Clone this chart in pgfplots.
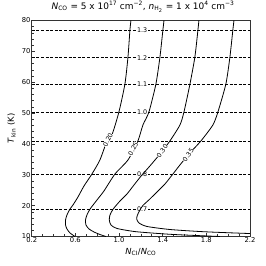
\documentclass[border=0pt]{standalone}
\usepackage{fontspec}
\setmainfont{DejaVu Sans}
\usepackage{pgfplots}
\pgfplotsset{compat=1.18}
\begin{document}
\begin{tikzpicture}
\begin{axis}[
  at={(0,0)}, anchor=south west,
  width=218.3bp, height=216bp, scale only axis,
  xmin=0.2, xmax=2.2, ymin=10, ymax=80,
  xtick={0.2,0.6,1.0,1.4,1.8,2.2},
  xticklabels={0.2,0.6,1.0,1.4,1.8,2.2},
  ytick={10,20,30,40,50,60,70,80},
  minor x tick num=3, minor y tick num=4,
  tick align=inside, tick pos=left,
  major tick length=3.5bp, minor tick length=2bp,
  axis line style={black!80, line width=0.8bp},
  every tick/.style={black!80, line width=0.6bp},
  tick label style={font=\fontsize{6.8}{7.5}\selectfont},
  /pgf/number format/assume math mode=true,
  yticklabel style={inner sep=1bp},
  xticklabel style={inner sep=1bp},
  xlabel={\textit{N}\textsubscript{CI}/\textit{N}\textsubscript{CO}},
  ylabel={\textit{T}\textsubscript{kin} (K)},
  label style={font=\fontsize{8.4}{9.5}\selectfont},
  xlabel style={at={(axis description cs:0.5,-0.0718)}, anchor=center},
  ylabel style={at={(axis description cs:-0.092,0.5)}, anchor=center},
  title={\textit{N}\textsubscript{CO} = 5 x 10\textsuperscript{17} cm\textsuperscript{−2}, \textit{n}\textsubscript{H\textsubscript{2}} = 1 x 10\textsuperscript{4} cm\textsuperscript{−3}},
  title style={at={(axis description cs:0.51,1.036)}, anchor=center, font=\fontsize{9}{10}\selectfont},
]
% dashed contours (horizontal)
\addplot[black, line width=0.7bp, dash pattern=on 3bp off 1.6bp] coordinates {(0.2,76.92) (2.2,76.92)};
\addplot[black, line width=0.7bp, dash pattern=on 3bp off 1.6bp] coordinates {(0.2,67.9) (2.2,67.9)};
\addplot[black, line width=0.7bp, dash pattern=on 3bp off 1.6bp] coordinates {(0.2,59.3) (2.2,59.3)};
\addplot[black, line width=0.7bp, dash pattern=on 3bp off 1.6bp] coordinates {(0.2,50.3) (2.2,50.3)};
\addplot[black, line width=0.7bp, dash pattern=on 3bp off 1.6bp] coordinates {(0.2,40.95) (2.2,40.95)};
\addplot[black, line width=0.7bp, dash pattern=on 3bp off 1.6bp] coordinates {(0.2,30.2) (2.2,30.2)};
\addplot[black, line width=0.7bp, dash pattern=on 3bp off 1.6bp] coordinates {(0.2,18.9) (2.2,18.9)};
\begin{scope}[every node/.style={fill=white, inner sep=0.8bp, font=\fontsize{6.4}{7}\selectfont}]
\node at (axis cs:1.212,76.92) {1.3};
\node at (axis cs:1.212,67.9) {1.2};
\node at (axis cs:1.212,59.3) {1.1};
\node at (axis cs:1.212,50.3) {1.0};
\node at (axis cs:1.212,30.2) {0.8};
\node at (axis cs:1.212,18.9) {0.7};
\end{scope}
% solid contours
\addplot[black, line width=0.8bp, smooth, tension=0.4] coordinates {
(1.109,80) (1.100,76.92) (1.082,68.17) (1.054,59.42) (0.999,50.35) (0.935,42.90) (0.890,40.95) (0.825,34.80) (0.752,30.26) (0.679,26.37) (0.624,22.81) (0.578,20.21) (0.551,18.92) (0.523,16.97) (0.510,15.35) (0.510,13.73) (0.523,12.44) (0.551,11.14) (0.597,10.0)};
\addplot[black, line width=0.8bp, smooth, tension=0.4] coordinates {
(1.412,80) (1.402,76.92) (1.375,68.17) (1.338,59.42) (1.274,50.35) (1.219,46.14) (1.173,40.95) (1.082,34.80) (0.963,30.26) (0.862,24.75) (0.798,21.83) (0.735,18.92) (0.706,16.97) (0.693,15.35) (0.697,13.73) (0.725,12.44) (0.771,11.46) (0.825,10.65) (0.880,10.0)};
\addplot[black, line width=0.8bp, smooth, tension=0.4] coordinates {
(1.732,80) (1.723,76.92) (1.695,68.17) (1.650,59.42) (1.595,50.35) (1.558,46.14) (1.466,40.95) (1.375,36.74) (1.283,32.85) (1.210,29.94) (1.137,26.69) (1.073,23.78) (1.009,21.51) (0.947,18.92) (0.917,16.97) (0.911,15.35) (0.926,13.73) (0.981,12.60) (1.155,11.56) (1.466,10.72) (1.741,10.27) (1.924,10.0)};
\addplot[black, line width=0.8bp, smooth, tension=0.4] coordinates {
(2.053,80) (2.043,76.92) (2.016,68.17) (1.979,59.42) (1.906,50.35) (1.860,46.14) (1.750,40.95) (1.649,37.06) (1.558,33.18) (1.494,30.26) (1.421,27.02) (1.357,24.75) (1.283,22.16) (1.219,20.05) (1.192,18.59) (1.169,16.97) (1.162,15.68) (1.183,14.38) (1.256,13.25) (1.466,12.27) (1.769,11.56) (2.135,11.04) (2.199,10.98)};
\begin{scope}[every node/.style={fill=white, inner sep=0.2bp, font=\fontsize{6.4}{7}\selectfont}]
\node[rotate=64] at (axis cs:0.899,41.28) {0.20};
\node[rotate=62] at (axis cs:1.130,38.36) {0.25};
\node[rotate=53] at (axis cs:1.396,37.71) {0.30};
\node[rotate=53] at (axis cs:1.634,36.42) {0.35};
\end{scope}
\end{axis}
\pgfresetboundingbox
\path[use as bounding box] (-31.7bp,-29.5bp) rectangle (234.3bp,236.5bp);
\end{tikzpicture}
\end{document}
